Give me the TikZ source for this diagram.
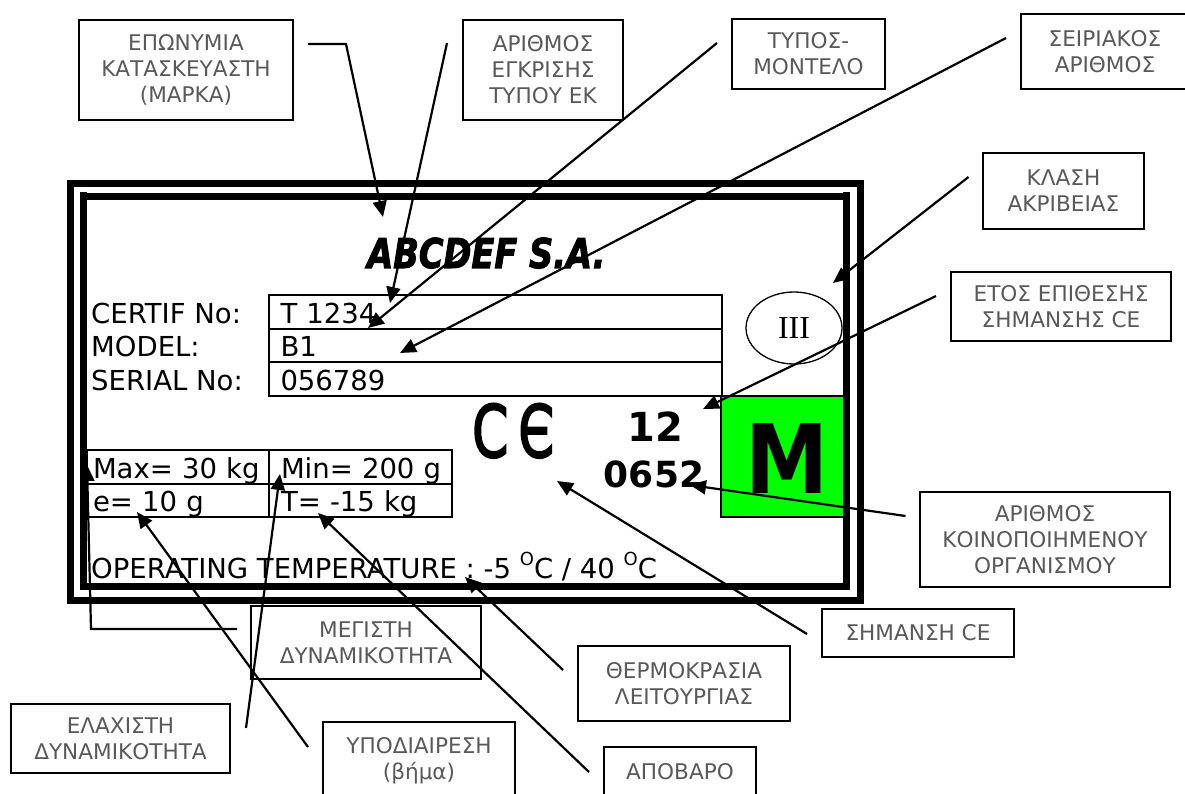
\documentclass[tikz,border=0pt]{standalone}
\usepackage{fontspec}
\setmainfont{DejaVu Sans}
\newfontfamily\ironfont{Liberation Serif}
\newfontfamily\cefont[FakeBold=3]{DejaVu Sans}
\newfontfamily\makerfont[BoldItalicFeatures={FakeBold=2.5}]{DejaVu Sans}
\usetikzlibrary{arrows.meta,shapes.geometric}
\definecolor{tagtext}{HTML}{595959}
\definecolor{markgreen}{HTML}{00FF00}
\newcommand{\platefont}{\fontsize{27.5}{32}\selectfont}
\newcommand{\tagfont}{\fontsize{21.6}{26}\selectfont}
\newcommand{\degmark}{\raisebox{13pt}{\fontsize{18}{18}\selectfont O}}
\tikzset{
  tag/.style     = {draw, line width=2pt, align=center, text=tagtext, font=\tagfont, inner sep=0pt},
  cell/.style    = {draw, line width=2pt, font=\platefont, anchor=base west, inner ysep=0pt,
                    inner xsep=12pt, text height=28pt, text depth=5.7pt},
  plate/.style   = {font=\platefont, anchor=base west, inner sep=0pt},
  frameline/.style = {line width=7pt},
  pointer/.style = {line width=2.2pt, -{Triangle[length=16pt,width=14pt]}}
}

\begin{document}
\begin{tikzpicture}[x=1pt,y=-1pt]
\useasboundingbox (0,0) rectangle (1185,794);
% nameplate
\node[draw, line width=2pt, fill=markgreen, minimum width=126pt, minimum height=121pt] (markbox) at (784,456.5) {};
\node[anchor=base, inner sep=0pt, font=\fontsize{96}{96}\selectfont\bfseries] (metro) at (787,493) {\scalebox{.87}[1]{M}};
\draw[frameline] (70.5,183.5) rectangle (860,600);
\draw[frameline] (83.5,192) -- (83.5,586.5) -- (846.5,586.5) -- (846.5,192);
\draw[frameline] (80,196.5) -- (850,196.5);
\node[plate, font=\makerfont\fontsize{41}{41}\selectfont\bfseries\itshape] (maker) at (367,268) {\scalebox{.82}[1]{ABCDEF S.A.}};

\node[plate] (certif) at (91,323) {CERTIF No:};
\node[plate] (model) at (91,356.7) {MODEL:};
\node[plate] (serial) at (91,390.4) {SERIAL No:};
\node[cell, text width=429pt] (certifval) at (267.5,323) {T 1234};
\node[cell, text width=429pt] (modelval) at (267.5,356.7) {B1};
\node[cell, text width=429pt] (serialval) at (267.5,390.4) {056789};

\node[cell, inner xsep=6pt, text width=170pt] (maxval) at (86,478) {\mbox{Max= 30 kg}};
\node[cell, inner xsep=12pt, text width=159pt] (minval) at (268,478) {\mbox{Min= 200 g}};
\node[cell, inner xsep=6pt, text width=170pt] (divval) at (86,511.7) {e= 10 g};
\node[cell, inner xsep=12pt, text width=159pt] (tareval) at (268,511.7) {T= -15 kg};
\node[plate] (optemp) at (91,578) {OPERATING TEMPERATURE : -5 \degmark C / 40 \degmark C};

\node[draw, ellipse, line width=1.3pt, inner sep=0pt, minimum width=96pt, minimum height=72pt,
      font=\ironfont\fontsize{32}{32}\selectfont] (classmark) at (794,328) {III};
\node[plate, font=\cefont\fontsize{72}{72}\selectfont] (cemark) at (472,457) {\scalebox{.72}[1]{C}\hspace{10pt}\scalebox{.71}[1]{Є}};
\node[anchor=base, inner sep=0pt, font=\fontsize{40}{40}\selectfont\bfseries] (year) at (655,441) {12};
\node[anchor=base, inner sep=0pt, font=\fontsize{36}{36}\selectfont\bfseries] (notified) at (654,487) {0652};

% tags round the plate
\node[tag, minimum width=214pt, minimum height=100pt] (brand) at (186,70) {ΕΠΩΝΥΜΙΑ\\ΚΑΤΑΣΚΕΥΑΣΤΗ\\(ΜΑΡΚΑ)};
\node[tag, minimum width=160pt, minimum height=100pt] (approval) at (543,70) {ΑΡΙΘΜΟΣ\\ΕΓΚΡΙΣΗΣ\\ΤΥΠΟΥ ΕΚ};
\node[tag, minimum width=153pt, minimum height=70pt] (type) at (808.5,54) {ΤΥΠΟΣ-\\ΜΟΝΤΕΛΟ};
\node[tag, minimum width=168pt, minimum height=75pt] (serialno) at (1105,51.5) {ΣΕΙΡΙΑΚΟΣ\\ΑΡΙΘΜΟΣ};
\node[tag, minimum width=161pt, minimum height=76pt] (accuracy) at (1063.5,191) {ΚΛΑΣΗ\\ΑΚΡΙΒΕΙΑΣ};
\node[tag, minimum width=220pt, minimum height=69pt] (ceyear) at (1061,306.5) {ΕΤΟΣ ΕΠΙΘΕΣΗΣ\\ΣΗΜΑΝΣΗΣ CE};
\node[tag, minimum width=250pt, minimum height=95pt] (notifiedno) at (1045,539.5) {ΑΡΙΘΜΟΣ\\ΚΟΙΝΟΠΟΙΗΜΕΝΟΥ\\ΟΡΓΑΝΙΣΜΟΥ};
\node[tag, minimum width=192pt, minimum height=48pt] (cesign) at (918,633) {ΣΗΜΑΝΣΗ CE};
\node[tag, minimum width=212pt, minimum height=75pt] (temperature) at (684,683.5) {ΘΕΡΜΟΚΡΑΣΙΑ\\ΛΕΙΤΟΥΡΓΙΑΣ};
\node[tag, minimum width=152pt, minimum height=50pt] (tare) at (680,772) {ΑΠΟΒΑΡΟ};
\node[tag, minimum width=230pt, minimum height=73pt] (maxload) at (366,642.5) {ΜΕΓΙΣΤΗ\\ΔΥΝΑΜΙΚΟΤΗΤΑ};
\node[tag, minimum width=219pt, minimum height=69pt] (minload) at (120.5,738.5) {ΕΛΑΧΙΣΤΗ\\ΔΥΝΑΜΙΚΟΤΗΤΑ};
\node[tag, minimum width=192pt, minimum height=77pt] (division) at (419,760.5) {ΥΠΟΔΙΑΙΡΕΣΗ\\(βήμα)};

% free ends of the pointers
\coordinate (brandout) at (308,44);
\coordinate (brandbend) at (346,44);
\coordinate (brandtip) at (383,217);
\coordinate (approvalout) at (447,43);
\coordinate (approvaltip) at (390,303);
\coordinate (typeout) at (717,43);
\coordinate (typetip) at (368,328);
\coordinate (serialout) at (1006,38);
\coordinate (serialtip) at (400,353);
\coordinate (accuracyout) at (968.5,177);
\coordinate (accuracytip) at (833,283);
\coordinate (ceyearout) at (936,296);
\coordinate (ceyeartip) at (703,409);
\coordinate (notifiedout) at (905.5,516);
\coordinate (notifiedtip) at (690,485);
\coordinate (cesignout) at (807,634);
\coordinate (cesigntip) at (557,481);
\coordinate (tempout) at (563,670);
\coordinate (temptip) at (465,577);
\coordinate (tareout) at (589,772);
\coordinate (taretip) at (318,513);
\coordinate (divout) at (308,747);
\coordinate (divtip) at (137,512);
\coordinate (minout) at (246,728);
\coordinate (mintip) at (280,474);
\coordinate (maxout) at (237,629);
\coordinate (maxbend) at (91,629);
\coordinate (maxtip) at (87,465);

\draw[pointer] (brandout) -- (brandbend) -- (brandtip);
\draw[pointer] (maxout) -- (maxbend) -- (maxtip);
\foreach \from/\to in {approvalout/approvaltip, typeout/typetip, serialout/serialtip,
                       accuracyout/accuracytip, ceyearout/ceyeartip, notifiedout/notifiedtip,
                       cesignout/cesigntip, tempout/temptip, tareout/taretip,
                       divout/divtip, minout/mintip}
  \draw[pointer] (\from) -- (\to);
\end{tikzpicture}
\end{document}
